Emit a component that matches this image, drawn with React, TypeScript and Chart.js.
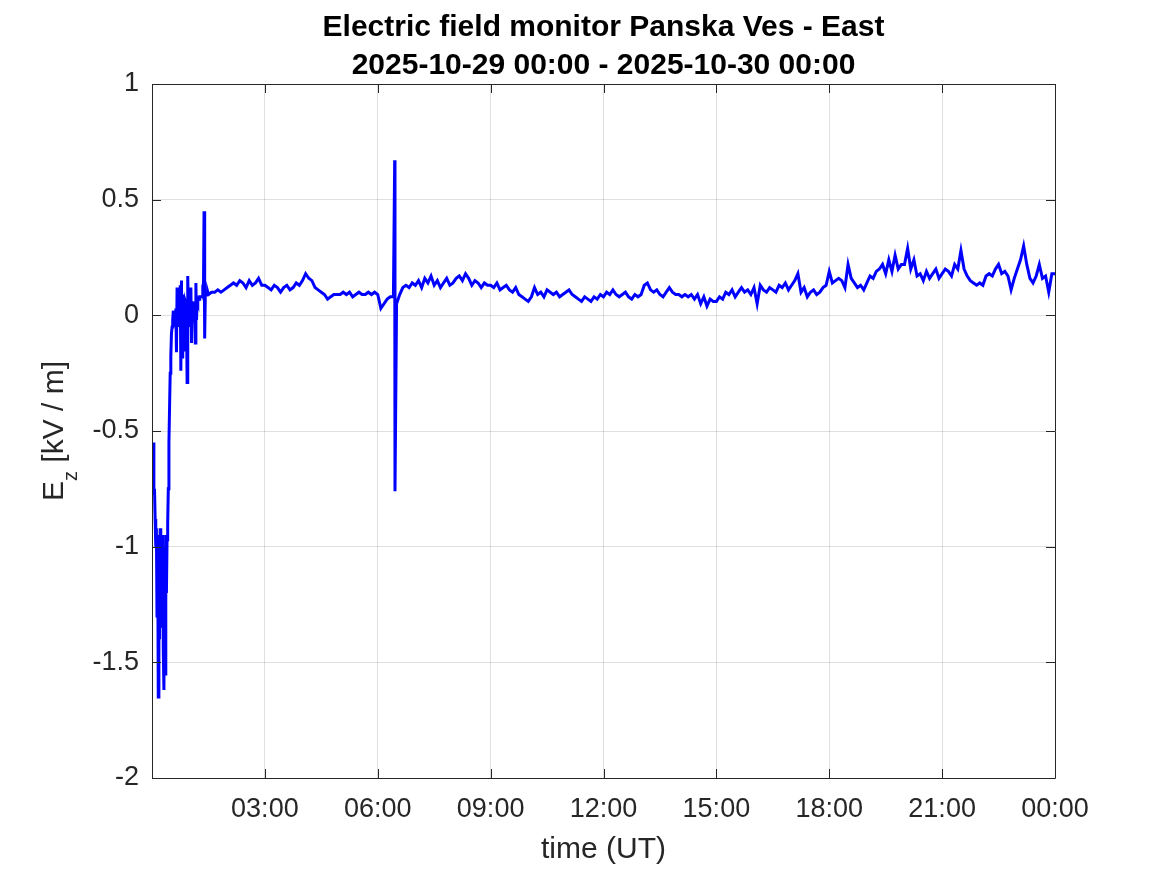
import React, { useEffect, useRef } from "react";
import { Chart, registerables } from "chart.js";

Chart.register(...registerables);

const TITLE_LINES = ["Electric field monitor Panska Ves - East", "2025-10-29 00:00 - 2025-10-30 00:00"];
const X_LABEL = "time (UT)";
const Y_TICKS = [-2, -1.5, -1, -0.5, 0, 0.5, 1];
const X_TICK_HOURS = [0, 3, 6, 9, 12, 15, 18, 21, 24];
const X_TICK_LABELS = ["", "03:00", "06:00", "09:00", "12:00", "15:00", "18:00", "21:00", "00:00"];

// first 90 minutes, 1-minute samples (minute 0..89)
const earlyValues = [
  -0.77, -0.62, -0.55, -0.78, -0.75, -0.88, -1.00, -0.92, -1.30, -0.95,
  -1.65, -1.00, -1.40, -0.92, -1.35, -0.98, -1.30, -0.95, -1.45, -1.62,
  -1.00, -1.55, -0.95, -1.20, -0.97, -0.90, -0.75, -0.55, -0.40, -0.25,
  -0.18, -0.08, -0.05, -0.02, 0.02, -0.05, 0.01, -0.03, 0.03, -0.16,
  0.12, -0.05, 0.00, 0.02, -0.05, 0.13, -0.24, 0.15, -0.18, 0.09,
  -0.15, 0.03, -0.02, 0.06, 0.05, -0.02, -0.29, 0.17, 0.00, -0.05,
  0.04, -0.03, 0.12, -0.12, 0.06, 0.02, -0.03, 0.04, 0.06, -0.12,
  0.14, -0.02, 0.07, 0.06, 0.07, 0.07, 0.08, 0.08, 0.08, 0.08,
  0.08, 0.09, 0.08, 0.45, -0.10, 0.09, 0.09, 0.10, 0.09, 0.10,
];

// from minute 90 to 1440, 5-minute samples
const MAIN_START_MIN = 90;
const MAIN_STEP_MIN = 5;
const mainValues = [
  0.09, 0.10, 0.10, 0.11, 0.10, 0.11,
  0.12, 0.13, 0.14, 0.13, 0.15, 0.14, 0.12, 0.15, 0.13, 0.14, 0.16, 0.13,
  0.13, 0.12, 0.11, 0.13, 0.12, 0.10, 0.12, 0.13, 0.11, 0.12, 0.14, 0.13,
  0.15, 0.18, 0.16, 0.15, 0.12, 0.11, 0.10, 0.09, 0.07, 0.08, 0.09, 0.09,
  0.09, 0.10, 0.09, 0.10, 0.08, 0.09, 0.10, 0.09, 0.09, 0.10, 0.09, 0.10,
  0.09, 0.03, 0.05, 0.07, 0.08, 0.08, 0.05, 0.09, 0.12, 0.13, 0.12, 0.14,
  0.13, 0.15, 0.12, 0.16, 0.14, 0.17, 0.13, 0.15, 0.12, 0.14, 0.16, 0.13,
  0.14, 0.16, 0.17, 0.15, 0.18, 0.16, 0.13, 0.15, 0.14, 0.12, 0.14, 0.13,
  0.13, 0.12, 0.14, 0.11, 0.12, 0.13, 0.11, 0.10, 0.12, 0.09, 0.08, 0.07,
  0.06, 0.08, 0.12, 0.09, 0.10, 0.08, 0.11, 0.10, 0.09, 0.10, 0.08, 0.09,
  0.10, 0.11, 0.09, 0.08, 0.07, 0.06, 0.08, 0.07, 0.06, 0.08, 0.07, 0.09,
  0.08, 0.10, 0.09, 0.11, 0.09, 0.08, 0.09, 0.10, 0.08, 0.07, 0.09, 0.08,
  0.09, 0.13, 0.14, 0.11, 0.10, 0.11, 0.09, 0.08, 0.10, 0.12, 0.10, 0.09,
  0.09, 0.08, 0.09, 0.08, 0.09, 0.07, 0.09, 0.05, 0.08, 0.04, 0.07, 0.06,
  0.06, 0.08, 0.07, 0.10, 0.09, 0.11, 0.08, 0.10, 0.12, 0.10, 0.11, 0.09,
  0.12, 0.05, 0.13, 0.11, 0.10, 0.12, 0.11, 0.10, 0.13, 0.12, 0.14, 0.11,
  0.13, 0.15, 0.18, 0.10, 0.12, 0.08, 0.10, 0.11, 0.09, 0.10, 0.12, 0.13,
  0.19, 0.14, 0.15, 0.16, 0.15, 0.12, 0.22, 0.16, 0.14, 0.12, 0.13, 0.11,
  0.14, 0.17, 0.16, 0.19, 0.20, 0.22, 0.18, 0.24, 0.19, 0.26, 0.20, 0.22,
  0.22, 0.29, 0.20, 0.24, 0.17, 0.18, 0.15, 0.19, 0.16, 0.18, 0.20, 0.16,
  0.18, 0.20, 0.19, 0.17, 0.22, 0.20, 0.28, 0.20, 0.17, 0.15, 0.14, 0.13,
  0.14, 0.13, 0.17, 0.18, 0.17, 0.20, 0.22, 0.18, 0.19, 0.17, 0.11, 0.16,
  0.20, 0.24, 0.30, 0.22, 0.16, 0.14, 0.17, 0.22, 0.16, 0.17, 0.10, 0.18,
  0.18,
];

// isolated spike samples
const spikeMinutes = [387, 387.5];
const spikeValues = [0.67, -0.76];

const AXIS_COLOR = "#262626";
const GRID_COLOR = "rgba(38,38,38,0.15)";
const LINE_COLOR = "#0000ff";
const FONT = "'Liberation Sans', Arial, Helvetica, sans-serif";

function buildPoints() {
  const pts: { x: number; y: number }[] = [];
  earlyValues.forEach((v, i) => pts.push({ x: i / 60, y: v }));
  mainValues.forEach((v, i) => pts.push({ x: (MAIN_START_MIN + i * MAIN_STEP_MIN) / 60, y: v }));
  spikeMinutes.forEach((m, i) => pts.push({ x: m / 60, y: spikeValues[i] }));
  pts.sort((a, b) => a.x - b.x);
  return pts;
}

const framePlugin = {
  id: "matlabFrame",
  afterDatasetsDraw(chart: any) {
    const { ctx, chartArea } = chart;
    const { left, right, top, bottom } = chartArea;
    const xs = chart.scales.x;
    const ys = chart.scales.y;
    ctx.save();
    ctx.strokeStyle = AXIS_COLOR;
    ctx.lineWidth = 1;
    ctx.beginPath();
    ctx.rect(Math.round(left) + 0.5, Math.round(top) + 0.5, Math.round(right - left), Math.round(bottom - top));
    ctx.stroke();
    const TL = 9;
    ctx.beginPath();
    X_TICK_HOURS.forEach((h) => {
      const px = Math.round(xs.getPixelForValue(h)) + 0.5;
      ctx.moveTo(px, bottom);
      ctx.lineTo(px, bottom - TL);
      ctx.moveTo(px, top);
      ctx.lineTo(px, top + TL);
    });
    Y_TICKS.forEach((v) => {
      const py = Math.round(ys.getPixelForValue(v)) + 0.5;
      ctx.moveTo(left, py);
      ctx.lineTo(left + TL, py);
      ctx.moveTo(right, py);
      ctx.lineTo(right - TL, py);
    });
    ctx.stroke();

    // title
    const cx = (left + right) / 2;
    ctx.fillStyle = "#000000";
    ctx.textAlign = "center";
    ctx.textBaseline = "alphabetic";
    ctx.font = `bold 30px ${FONT}`;
    ctx.fillText(TITLE_LINES[0], cx, 36);
    ctx.fillText(TITLE_LINES[1], cx, 74);

    // x label
    ctx.fillStyle = AXIS_COLOR;
    ctx.font = `30px ${FONT}`;
    ctx.fillText(X_LABEL, cx, 858);

    // y label E_z [kV / m]
    const cy = (top + bottom) / 2;
    ctx.translate(63, cy);
    ctx.rotate(-Math.PI / 2);
    ctx.textAlign = "left";
    const mainFont = `30px ${FONT}`;
    const subFont = `20px ${FONT}`;
    ctx.font = mainFont;
    const wE = ctx.measureText("E").width;
    const wRest = ctx.measureText(" [kV / m]").width;
    ctx.font = subFont;
    const wz = ctx.measureText("z").width;
    const total = wE + wz + wRest;
    let x0 = -total / 2;
    ctx.font = mainFont;
    ctx.fillText("E", x0, 0);
    x0 += wE;
    ctx.font = subFont;
    ctx.fillText("z", x0, 14);
    x0 += wz;
    ctx.font = mainFont;
    ctx.fillText(" [kV / m]", x0, 0);
    ctx.restore();
  },
};

export default function App() {
  const ref = useRef<HTMLCanvasElement | null>(null);
  useEffect(() => {
    document.body.style.margin = "0";
    if (!ref.current) return;
    const chart = new Chart(ref.current, {
      type: "line",
      data: {
        datasets: [
          {
            data: buildPoints(),
            borderColor: LINE_COLOR,
            borderWidth: 3,
            pointRadius: 0,
            tension: 0,
            fill: false,
          },
        ],
      },
      options: {
        responsive: false,
        animation: false,
        devicePixelRatio: 1,
        parsing: false,
        normalized: true,
        layout: { padding: { top: 84, right: 112, left: 0, bottom: 0 } },
        plugins: { legend: { display: false }, title: { display: false }, tooltip: { enabled: false } },
        scales: {
          x: {
            type: "linear",
            min: 0,
            max: 24,
            afterFit: (s: any) => {
              s.height = 97;
            },
            afterBuildTicks: (s: any) => {
              s.ticks = X_TICK_HOURS.map((v) => ({ value: v }));
            },
            grid: { color: GRID_COLOR, drawTicks: false, lineWidth: 1 },
            border: { display: false },
            ticks: {
              color: AXIS_COLOR,
              font: { family: FONT, size: 27 },
              padding: 15,
              maxRotation: 0,
              autoSkip: false,
              callback: (v: any) => {
                const i = X_TICK_HOURS.indexOf(Number(v));
                return i >= 0 ? X_TICK_LABELS[i] : "";
              },
            },
          },
          y: {
            type: "linear",
            min: -2,
            max: 1,
            afterFit: (s: any) => {
              s.width = 152;
            },
            afterBuildTicks: (s: any) => {
              s.ticks = Y_TICKS.map((v) => ({ value: v }));
            },
            grid: { color: GRID_COLOR, drawTicks: false, lineWidth: 1 },
            border: { display: false },
            ticks: {
              color: AXIS_COLOR,
              font: { family: FONT, size: 27 },
              padding: 13,
              autoSkip: false,
              callback: (v: any) => String(v),
            },
          },
        },
      },
      plugins: [framePlugin],
    });
    return () => chart.destroy();
  }, []);
  return (
    <canvas ref={ref} width={1167} height={875} style={{ display: "block", width: "1167px", height: "875px" }} />
  );
}
